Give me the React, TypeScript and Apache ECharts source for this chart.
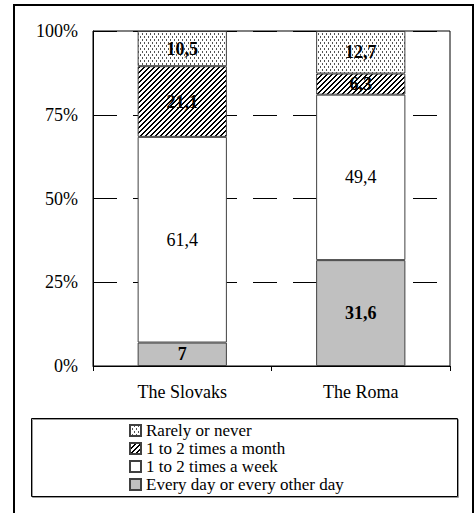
import React, { useEffect, useRef } from "react";
import * as echarts from "echarts";

const categories = ["The Slovaks", "The Roma"];
const seriesNames = [
  "Every day or every other day",
  "1 to 2 times a week",
  "1 to 2 times a month",
  "Rarely or never",
];
const dailyValues = [7, 31.6];
const weeklyValues = [61.4, 49.4];
const monthlyValues = [21.1, 6.3];
const rarelyValues = [10.5, 12.7];
const legendOrder = [
  "Rarely or never",
  "1 to 2 times a month",
  "1 to 2 times a week",
  "Every day or every other day",
];

const FONT = "Liberation Serif, Times New Roman, serif";

function makeTile(w: number, h: number, draw: (x: number, y: number) => string | null) {
  const c = document.createElement("canvas");
  c.width = w;
  c.height = h;
  const ctx = c.getContext("2d")!;
  ctx.fillStyle = "#fff";
  ctx.fillRect(0, 0, w, h);
  for (let x = 0; x < w; x++) {
    for (let y = 0; y < h; y++) {
      const col = draw(x, y);
      if (col) {
        ctx.fillStyle = col;
        ctx.fillRect(x, y, 1, 1);
      }
    }
  }
  return c;
}

export default function App() {
  const ref = useRef<HTMLDivElement>(null);
  useEffect(() => {
    if (!ref.current) return;
    const chart = echarts.init(ref.current, undefined, { renderer: "svg" });

    const dotTile = makeTile(4, 6, (x, y) =>
      (x === 0 && (y === 0 || y === 1)) || (x === 2 && (y === 3 || y === 4)) ? "#555" : null
    );
    const hatchTile = makeTile(5, 5, (x, y) =>
      (x + y) % 5 === 0 || (x + y) % 5 === 1 ? "#000" : null
    );
    const dotPattern: any = { image: dotTile, repetition: "repeat", imageWidth: 4, imageHeight: 6 };
    const hatchPattern: any = { image: hatchTile, repetition: "repeat", imageWidth: 5, imageHeight: 5 };

    const fmt = (p: any) => String(p.value).replace(".", ",");
    const mkSeries = (name: string, data: number[], color: any, bold: boolean) => ({
      name,
      type: "bar",
      stack: "total",
      barWidth: "50%",
      data,
      itemStyle: { color, borderColor: "#404040", borderWidth: 1 },
      label: {
        show: true,
        position: "inside",
        formatter: fmt,
        color: "#000",
        fontFamily: FONT,
        fontSize: 18,
        fontWeight: bold ? "bold" : "normal",
        textBorderWidth: 0,
      },
    });

    chart.setOption({
      animation: false,
      backgroundColor: "#fff",
      grid: {
        left: 93, right: 26, top: 31, bottom: 147, containLabel: false,
        show: true, borderColor: "#000", borderWidth: 1, backgroundColor: "transparent",
      },
      xAxis: {
        type: "category",
        data: categories,
        axisLine: { show: true, lineStyle: { color: "#000", width: 1 } },
        axisTick: { show: true, length: 5, lineStyle: { color: "#000", width: 1 } },
        axisLabel: { color: "#000", fontFamily: FONT, fontSize: 18, margin: 17 },
        splitLine: { show: false },
      },
      yAxis: {
        type: "value",
        min: 0,
        max: 100,
        interval: 25,
        axisLine: { show: true, lineStyle: { color: "#000", width: 1 } },
        axisTick: { show: false },
        axisLabel: { formatter: "{value}%", color: "#000", fontFamily: FONT, fontSize: 18, margin: 15 },
        splitLine: {
          show: true,
          lineStyle: { color: "#000", width: 1, type: [24, 16] },
        },
      },
      legend: {
        orient: "vertical",
        left: 129,
        top: 422,
        padding: 0,
        itemGap: 1,
        itemWidth: 11,
        itemHeight: 11,
        data: legendOrder,
        icon: "rect",
        textStyle: { color: "#000", fontFamily: FONT, fontSize: 17, lineHeight: 17 },
      },
      graphic: [
        {
          type: "rect",
          shape: { x: 14, y: 5, width: 459, height: 510 },
          style: { fill: "none", stroke: "#000", lineWidth: 2 },
          silent: true,
        },
        {
          type: "rect",
          shape: { x: 31.5, y: 418.5, width: 426, height: 78 },
          style: { fill: "none", stroke: "#000", lineWidth: 1, shadowColor: "rgba(0,0,0,0.4)", shadowOffsetX: 1, shadowOffsetY: 1 },
          silent: true,
          z: -1,
        },
      ],
      series: [
        mkSeries(seriesNames[0], dailyValues, "#c0c0c0", true),
        mkSeries(seriesNames[1], weeklyValues, "#ffffff", false),
        mkSeries(seriesNames[2], monthlyValues, hatchPattern, true),
        mkSeries(seriesNames[3], rarelyValues, dotPattern, true),
      ],
    });
    return () => chart.dispose();
  }, []);
  return (
    <div
      ref={ref}
      style={{ position: "absolute", left: 0, top: 0, width: 476, height: 513 }}
    />
  );
}
